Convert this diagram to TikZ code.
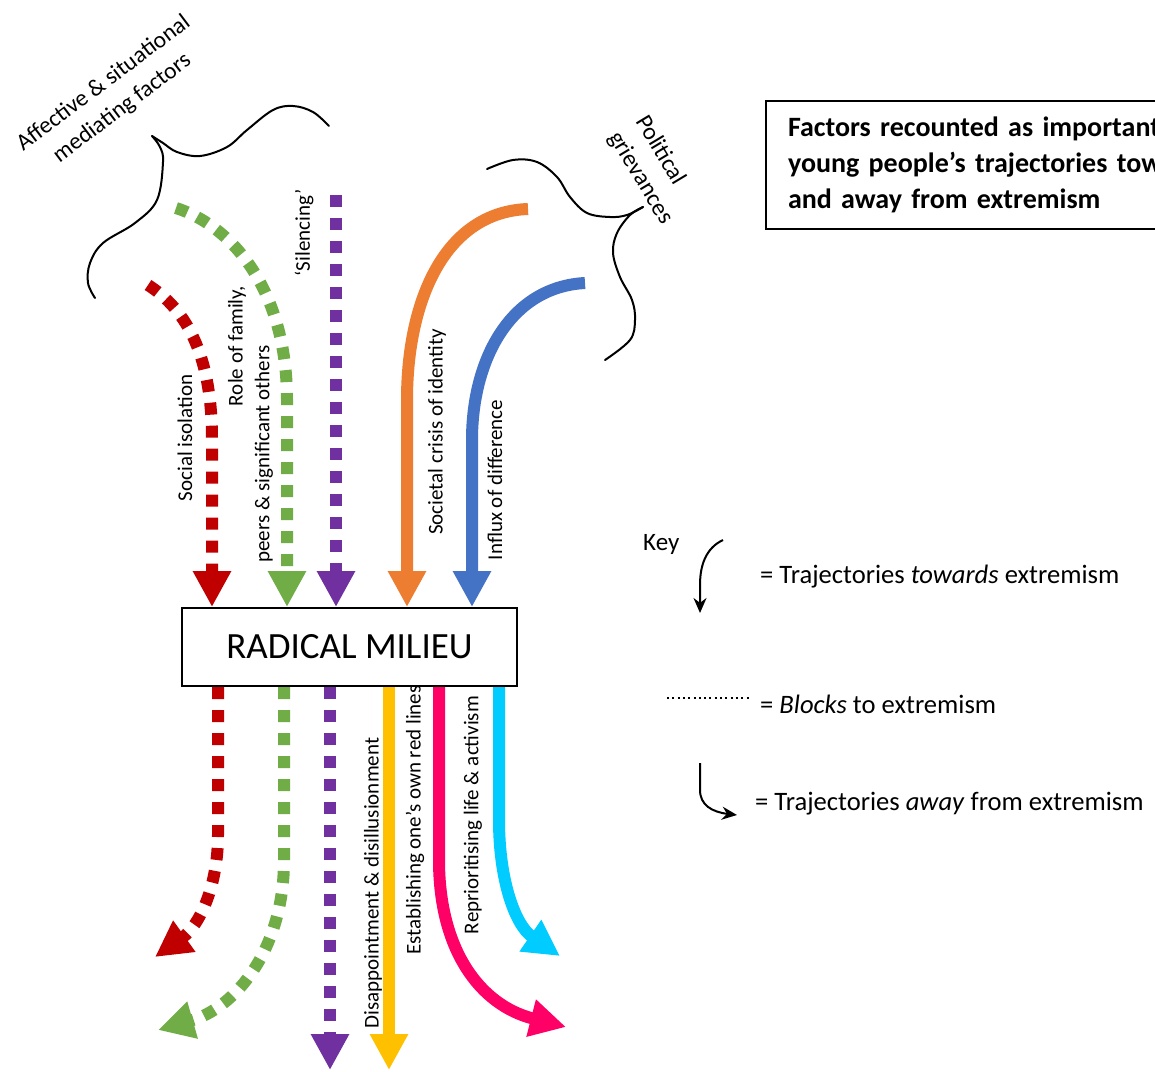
\documentclass[tikz,border=0pt]{standalone}
\usepackage{fontspec}
\setmainfont{Carlito}
\usetikzlibrary{arrows.meta}
\definecolor{cRed}{HTML}{C00000}
\definecolor{cGreen}{HTML}{70AD47}
\definecolor{cPurple}{HTML}{7030A0}
\definecolor{cOrange}{HTML}{ED7D31}
\definecolor{cBlue}{HTML}{4472C4}
\definecolor{cYellow}{HTML}{FFC000}
\definecolor{cPink}{HTML}{FF0066}
\definecolor{cCyan}{HTML}{00CCFF}
\begin{document}
\begin{tikzpicture}[x=1pt,y=-1pt,
  fatpath/.style={line width=12pt},
  blockdash/.style={dash pattern=on 12pt off 11pt},
  bighead/.style={-{Triangle[length=36pt,width=36pt]}},
  lbl/.style={rotate=90, font=\fontsize{21}{25}\selectfont, inner sep=0pt},
  bracepath/.style={line width=2pt, line cap=round, line join=round},
  keytxt/.style={font=\fontsize{26.6}{30}\selectfont, anchor=base west, inner sep=0pt},
  keyarrow/.style={line width=2pt, -{Stealth[length=15pt,width=13pt]}},
]
\clip (0,0) rectangle (1155,1071);
\fill[white] (0,0) rectangle (1155,1071);

% central box
\node[draw, line width=2pt, minimum width=335pt, minimum height=78pt, inner sep=0pt,
      font=\fontsize{37}{42}\selectfont] (milieu) at (349.5,647) {RADICAL MILIEU};

% title box
\node[draw, line width=2pt, anchor=north west, inner xsep=22pt, inner ysep=0pt,
      minimum height=128pt, text width=520pt, align=left,
      font=\bfseries\fontsize{28}{36}\selectfont] (title) at (765,100)
  {Factors recounted as important in\\young people’s trajectories towards\\and away from extremism};

% group labels
\node[rotate=37, align=center, font=\fontsize{23.5}{31}\selectfont, inner sep=0pt] (aff) at (113,96)
  {Affective \& situational\\mediating factors};
\node[rotate=-59, align=left, font=\fontsize{24}{31}\selectfont, inner sep=0pt] (pol) at (654,170)
  {Political\\grievances};

% braces
\draw[bracepath] plot[smooth, tension=0.6] coordinates
  {(329,126) (313,112) (293,106) (273,110) (247,130) (227,147) (200,156) (177,152) (163,143) (152,136)};
\draw[bracepath] plot[smooth, tension=0.6] coordinates
  {(152,136) (160,147) (163,162) (157,200) (135,223) (103,243) (90,263) (88,283) (95,298)};
\draw[bracepath] plot[smooth, tension=0.6] coordinates
  {(487,169) (513,160) (537,162) (557,177) (570,197) (587,213) (610,217) (627,215) (643,207)};
\draw[bracepath] plot[smooth, tension=0.6] coordinates
  {(643,207) (630,215) (617,233) (613,253) (620,277) (632,300) (635,320) (630,340) (605,360)};

% labels of trajectories
\node[lbl] (lSoc) at (185,438) {Social isolation};
\node[lbl] (lRole) at (237,346) {Role of family,};
\node[lbl] (lPeer) at (264,454) {peers \& significant others};
\node[lbl] (lSil) at (304,233) {‘Silencing’};
\node[lbl] (lSoci) at (437,432) {Societal crisis of identity};
\node[lbl] (lInf) at (495,480) {Influx of difference};
\node[lbl] (lDis) at (373,883) {Disappointment \& disillusionment};
\node[lbl] (lEst) at (415,820) {Establishing one’s own red lines};
\node[lbl] (lRep) at (473,815) {Reprioritising life \& activism};

% start / end coordinates
\coordinate (sR) at (148,285);
\coordinate (sG) at (176,208);
\coordinate (sP) at (336,195);
\coordinate (sO) at (528,209);
\coordinate (sB) at (585,283);
\coordinate (eR) at (155,957);
\coordinate (eG) at (158,1030);
\coordinate (eP) at (330,1070);
\coordinate (eY) at (389,1070);
\coordinate (ePk) at (566,1027);
\coordinate (eC) at (560,956);

% incoming trajectories
\draw[fatpath, blockdash, bighead, cRed] (sR) .. controls (195,315) and (212,370) .. (212,440) -- (212,0 |- milieu.north);
\draw[fatpath, blockdash, bighead, cGreen] (sG) .. controls (232,226) and (287,290) .. (287,400) -- (287,0 |- milieu.north);
\draw[fatpath, blockdash, bighead, cPurple] (sP) -- (336,0 |- milieu.north);
\draw[fatpath, bighead, cOrange] (sO) .. controls (445,212) and (407,300) .. (407,400) -- (407,0 |- milieu.north);
\draw[fatpath, bighead, cBlue] (sB) .. controls (510,287) and (472,360) .. (472,440) -- (472,0 |- milieu.north);

% outgoing trajectories
\draw[fatpath, blockdash, bighead, cRed] (218,0 |- milieu.south) -- (218,835) .. controls (218,885) and (200,925) .. (eR);
\draw[fatpath, blockdash, bighead, cGreen] (284,0 |- milieu.south) -- (284,860) .. controls (284,950) and (235,1008) .. (eG);
\draw[fatpath, blockdash, bighead, cPurple] (330,0 |- milieu.south) -- (eP);
\draw[fatpath, bighead, cYellow] (389,0 |- milieu.south) -- (eY);
\draw[fatpath, bighead, cPink] (439,0 |- milieu.south) -- (439,860) .. controls (439,950) and (480,1005) .. (ePk);
\draw[fatpath, bighead, cCyan] (499,0 |- milieu.south) -- (499,820) .. controls (499,880) and (515,925) .. (eC);

% key
\node[font=\fontsize{25}{30}\selectfont, anchor=base west, inner sep=0pt] (key) at (643,550) {Key};
\coordinate (k1s) at (723,540);
\coordinate (k1e) at (700,613);
\draw[keyarrow] (k1s) .. controls (706,548) and (700,565) .. (700,585) -- (k1e);
\node[keytxt] (kt1) at (760,583) {= Trajectories \textit{towards} extremism};
\coordinate (d1) at (667,698);
\coordinate (d2) at (749,698);
\draw[line width=2pt, dash pattern=on 2pt off 3.3pt] (d1) -- (d2);
\node[keytxt] (kt2) at (760,713) {= \textit{Blocks} to extremism};
\coordinate (k2s) at (700,763);
\coordinate (k2e) at (737,815);
\draw[keyarrow] (k2s) -- (700,790) .. controls (700,805) and (712,812) .. (k2e);
\node[keytxt] (kt3) at (755,810) {= Trajectories \textit{away} from extremism};
\end{tikzpicture}
\end{document}
